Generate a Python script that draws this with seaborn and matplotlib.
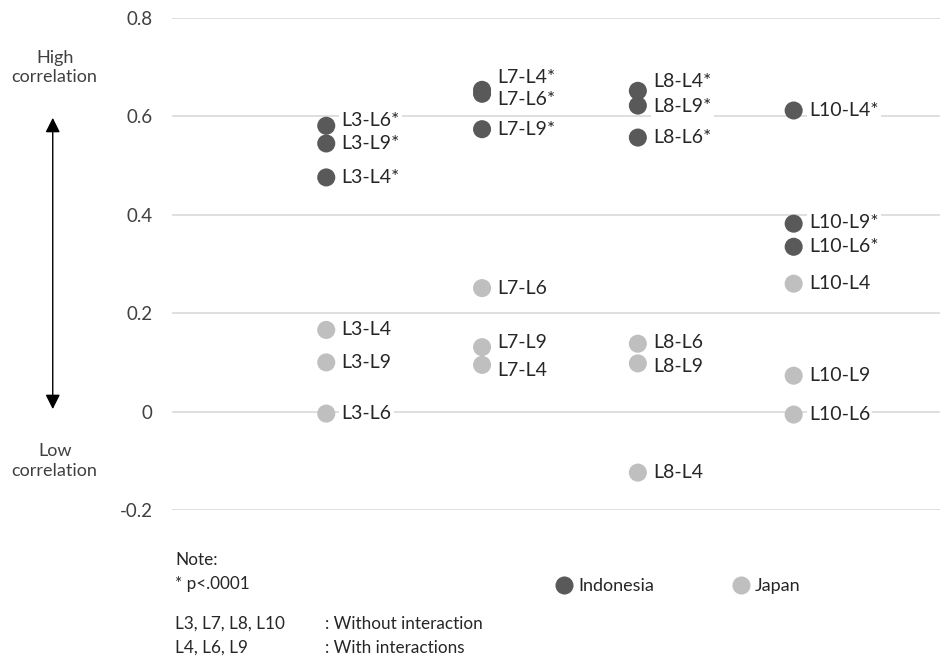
import pandas as pd
import matplotlib.pyplot as plt
import seaborn as sns

# Data
columns = ["L3", "L7", "L8", "L10"]

indo_group = ["L3", "L3", "L3", "L7", "L7", "L7", "L8", "L8", "L8", "L10", "L10", "L10"]
indo_pair = ["L6", "L9", "L4", "L4", "L6", "L9", "L4", "L9", "L6", "L4", "L9", "L6"]
indo_r = [0.581, 0.545, 0.476, 0.654, 0.646, 0.574, 0.652, 0.622, 0.557, 0.612, 0.382, 0.335]

japan_group = ["L3", "L3", "L3", "L7", "L7", "L7", "L8", "L8", "L8", "L10", "L10", "L10"]
japan_pair = ["L4", "L9", "L6", "L6", "L9", "L4", "L6", "L9", "L4", "L4", "L9", "L6"]
japan_r = [0.166, 0.100, -0.004, 0.251, 0.131, 0.095, 0.138, 0.098, -0.124, 0.260, 0.073, -0.006]

# significance (p<.0001)
indo_sig = [True] * 12
japan_sig = [False] * 12

# label nudges (points, up is positive) so overlapping labels stay readable
indo_nudge = [4, 0, 0, 9, -4, 0, 7, -1, 0, 0, 1, 0]
japan_nudge = [0, 0, 0, 0, 3, -4, 1, -2, 0, 0, 0, 0]

df = pd.DataFrame({
    "group": indo_group + japan_group,
    "pair": indo_pair + japan_pair,
    "r": indo_r + japan_r,
    "sig": indo_sig + japan_sig,
    "country": ["Indonesia"] * len(indo_r) + ["Japan"] * len(japan_r),
    "nudge": indo_nudge + japan_nudge,
})
df["label"] = df["group"] + "-" + df["pair"] + df["sig"].map({True: "*", False: ""})

sns.set_style("white")
plt.rcParams["font.family"] = ["Lato", "DejaVu Sans"]

fig = plt.figure(figsize=(9.42, 6.62), dpi=100)
ax = fig.add_axes([0.1826, 0.2296, 0.8154, 0.7432])

sns.stripplot(data=df, x="group", y="r", hue="country", order=columns,
              palette={"Indonesia": "#595959", "Japan": "#bfbfbf"},
              jitter=False, dodge=False, size=13, linewidth=0, ax=ax, zorder=3)

ax.set_ylim(-0.2, 0.8)
ax.set_xlim(-0.99, 3.94)
ax.set_yticks([-0.2, 0, 0.2, 0.4, 0.6, 0.8])
ax.set_yticklabels(["-0.2", "0", "0.2", "0.4", "0.6", "0.8"], fontsize=13.5, color="#404040")
ax.tick_params(axis="y", length=0, pad=14)
ax.set_xticks([])
ax.set_xlabel("")
ax.set_ylabel("")
ax.yaxis.grid(True, color="#d9d9d9", linewidth=1.2)
ax.set_axisbelow(True)
sns.despine(ax=ax, left=True, bottom=True)

# point labels
for _, row in df.iterrows():
    xi = columns.index(row["group"])
    ax.annotate(row["label"], (xi, row["r"]), xytext=(11, row["nudge"]),
                textcoords="offset points", va="center", ha="left",
                fontsize=14, color="#262626", zorder=2,
                bbox=dict(facecolor="white", edgecolor="none", pad=1.5))

# legend
sns.move_legend(ax, "center left", bbox_to_anchor=(0.466, -0.155), ncol=2,
                frameon=False, title=None, fontsize=13, handletextpad=-0.22,
                columnspacing=3.8, markerscale=1.0)
for t in ax.get_legend().get_texts():
    t.set_color("#262626")

# correlation arrow on the left
fig.text(0.058, 0.898, "High\ncorrelation", ha="center", va="center",
         fontsize=13, color="#404040", linespacing=1.3)
fig.text(0.058, 0.304, "Low\ncorrelation", ha="center", va="center",
         fontsize=13, color="#404040", linespacing=1.3)
ax.annotate("", xy=(0.056, 0.822), xytext=(0.056, 0.382), xycoords="figure fraction",
            textcoords="figure fraction",
            arrowprops=dict(arrowstyle="<|-|>", color="black", lw=1,
                            mutation_scale=22, shrinkA=0, shrinkB=0),
            annotation_clip=False)

# note block
note_kw = dict(fontsize=12.3, color="#262626", va="center", ha="left")
fig.text(0.186, 1 - 560 / 662, "Note:", **note_kw)
fig.text(0.186, 1 - 584 / 662, "* p<.0001", **note_kw)
fig.text(0.186, 1 - 624 / 662, "L3, L7, L8, L10", **note_kw)
fig.text(0.345, 1 - 624 / 662, ": Without interaction", **note_kw)
fig.text(0.186, 1 - 648 / 662, "L4, L6, L9", **note_kw)
fig.text(0.345, 1 - 648 / 662, ": With interactions", **note_kw)

fig.savefig("out.png", dpi=100)
